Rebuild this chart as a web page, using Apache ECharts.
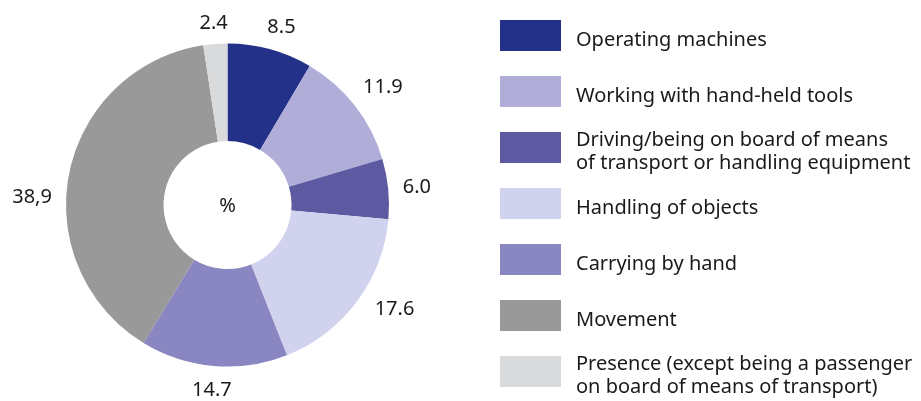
<!DOCTYPE html>
<html>
<head>
<meta charset="utf-8">
<script src="https://cdn.jsdelivr.net/npm/echarts@6/dist/echarts.min.js"></script>
<style>
    html, body { margin: 0; padding: 0; background: #fff; }
    #chart { width: 921px; height: 401px; }
</style>
</head>
<body>
<div id="chart"></div>
<script>
    // data (share of accidents, %)
    var categories = [
        'Operating machines',
        'Working with hand-held tools',
        'Driving/being on board of means\nof transport or handling equipment',
        'Handling of objects',
        'Carrying by hand',
        'Movement',
        'Presence (except being a passenger\non board of means of transport)'
    ];
    var values = [8.5, 11.9, 6.0, 17.6, 14.7, 38.9, 2.4];
    var valueLabels = ['8.5', '11.9', '6.0', '17.6', '14.7', '38,9', '2.4'];
    var colors = ['#243189', '#b0aed9', '#5d5aa2', '#d1d2ee', '#8a86c1', '#999999', '#d9dadb'];

    // small angular nudges (degrees) so value labels sit where the original put them
    var labelNudge = [1.5, 0.5, 0, -5, 0, -8.5, 0];

    var FONT = '"Noto Sans", "Open Sans", sans-serif';
    var TEXT_COLOR = '#1a1a1a';
    var FONT_SIZE = 20;
    var CENTER = [227.5, 205];
    var INNER_R = 64, OUTER_R = 161.5;

    // legend swatch 61x31; the icon box is 40 high (empty strip below the square)
    // so the text, centred on the box, sits a little lower than the swatch centre
    var SW_W = 61, SW_H = 31, ICON_H = 40, LINE_H = 23;
    var swatchPath = 'path://M0,0L61,0L61,31L0,31Z M0,40L0,40Z';

    var myChart = echarts.init(document.getElementById('chart'));

    // one legend per entry so the squares keep an even step even for two-line names
    var legends = categories.map(function (name, i) {
        var lines = name.split('\n').length;
        var overflow = Math.max(0, (lines * LINE_H - ICON_H) / 2);
        return {
            orient: 'vertical',
            left: 500,
            top: 20 + i * 56 - overflow,
            padding: 0,
            data: [name],
            icon: swatchPath,
            itemWidth: SW_W,
            itemHeight: ICON_H,
            selectedMode: false,
            textStyle: {
                fontFamily: FONT,
                fontSize: FONT_SIZE,
                lineHeight: LINE_H,
                color: TEXT_COLOR,
                padding: [0, 0, 0, 10]
            }
        };
    });

    var option = {
        animation: false,
        backgroundColor: '#fff',
        legend: legends,
        graphic: [{
            type: 'text',
            x: CENTER[0],
            y: CENTER[1] + 1,
            style: {
                text: '%',
                align: 'center',
                verticalAlign: 'middle',
                fontFamily: FONT,
                fontSize: FONT_SIZE,
                fill: TEXT_COLOR
            }
        }],
        series: [{
            type: 'pie',
            center: CENTER,
            radius: [INNER_R, OUTER_R],
            startAngle: 90,
            clockwise: true,
            padAngle: 0,
            avoidLabelOverlap: false,
            silent: true,
            itemStyle: { borderWidth: 0, borderRadius: 0 },
            data: categories.map(function (name, i) {
                return { name: name, value: values[i], itemStyle: { color: colors[i] } };
            }),
            label: {
                show: true,
                position: 'outside',
                formatter: function (p) { return valueLabels[p.dataIndex]; },
                fontFamily: FONT,
                fontSize: FONT_SIZE,
                color: TEXT_COLOR
            },
            labelLine: {
                show: true,
                length: 10,
                length2: 0,
                lineStyle: { width: 0, opacity: 0 }
            },
            // put each value just outside the ring, its box a fixed gap from the arc
            labelLayout: function (p) {
                var pts = p.labelLinePoints;
                if (!pts) return {};
                var nudge = (labelNudge[p.dataIndex] || 0) * Math.PI / 180;
                var a0 = Math.atan2(pts[1][0] - pts[0][0], -(pts[1][1] - pts[0][1]));
                var cx = pts[0][0] - Math.sin(a0) * OUTER_R;
                var cy = pts[0][1] + Math.cos(a0) * OUTER_R;
                var a = a0 + nudge;
                var ux = Math.sin(a), uy = -Math.cos(a);
                var w = p.labelRect.width, h = FONT_SIZE * 0.75;
                var d = OUTER_R + 14 + Math.abs(ux) * w / 2 + Math.abs(uy) * h / 2;
                return {
                    x: cx + ux * d,
                    y: cy + uy * d + 1.5,
                    align: 'center',
                    verticalAlign: 'middle'
                };
            }
        }]
    };
    myChart.setOption(option);
</script>
</body>
</html>
